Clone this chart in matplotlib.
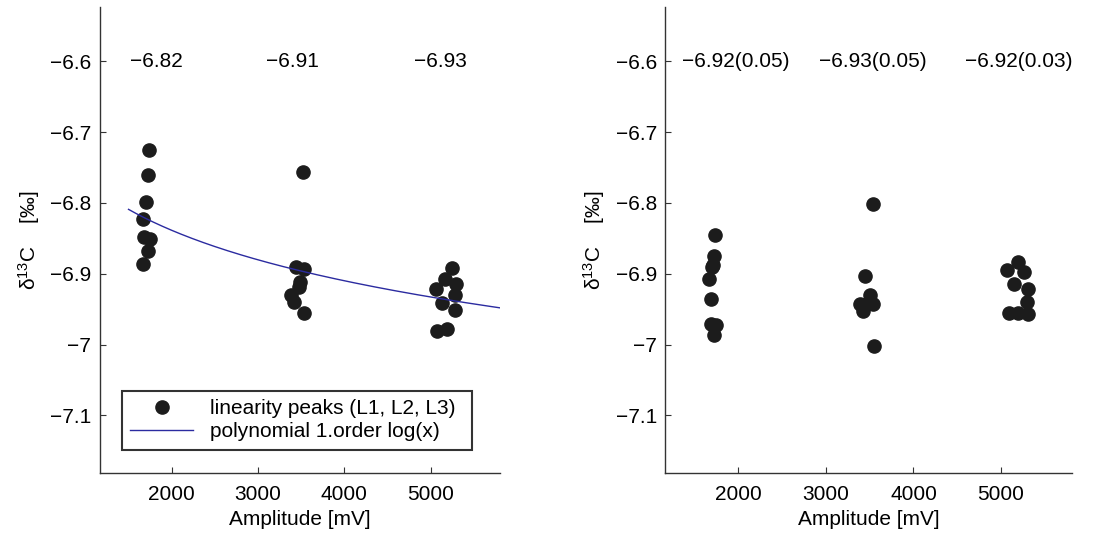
import numpy as np
import matplotlib.pyplot as plt

plt.rcParams['font.family'] = ['Liberation Sans', 'DejaVu Sans']
plt.rcParams['mathtext.fontset'] = 'custom'
plt.rcParams['mathtext.rm'] = 'Liberation Sans'
plt.rcParams['mathtext.it'] = 'Liberation Sans:italic'

# raw linearity peaks (left panel)
raw_x = [1735, 1723, 1700, 1669, 1677, 1746, 1723, 1673,
         3527, 3438, 3538, 3488, 3473, 3377, 3423, 3538,
         5250, 5173, 5058, 5300, 5288, 5135, 5288, 5185, 5077]
raw_y = [-6.725, -6.760, -6.799, -6.823, -6.848, -6.851, -6.868, -6.886,
         -6.757, -6.890, -6.893, -6.911, -6.918, -6.930, -6.940, -6.955,
         -6.892, -6.907, -6.922, -6.915, -6.930, -6.941, -6.951, -6.978, -6.981]

# corrected peaks (right panel)
cor_x = [1734, 1726, 1707, 1703, 1665, 1684, 1684, 1741, 1726,
         3534, 3447, 3504, 3389, 3427, 3542, 3490, 3549,
         5064, 5190, 5266, 5148, 5312, 5293, 5095, 5190, 5304]
cor_y = [-6.845, -6.875, -6.887, -6.891, -6.907, -6.936, -6.971, -6.973, -6.986,
         -6.802, -6.903, -6.930, -6.942, -6.953, -6.943, -6.940, -7.002,
         -6.894, -6.884, -6.898, -6.915, -6.922, -6.940, -6.955, -6.955, -6.957]

left_notes = ['\u22126.82', '\u22126.91', '\u22126.93']
left_note_x = [1820, 3400, 5110]
right_notes = ['\u22126.92(0.05)', '\u22126.93(0.05)', '\u22126.92(0.03)']
right_note_x = [1975, 3540, 5200]

yticks = [-7.1, -7.0, -6.9, -6.8, -6.7, -6.6]
ytick_labels = ['\u22127.1', '\u22127', '\u22126.9', '\u22126.8', '\u22126.7', '\u22126.6']
xticks = [2000, 3000, 4000, 5000]

# log fit over the amplitude range
fit_range = [1500, 5800]
coef = np.polyfit(np.log(raw_x), raw_y, 1)
fx = np.linspace(fit_range[0], fit_range[1], 200)
fy = np.polyval(coef, np.log(fx))

dot = '#1c1c1c'
blue = '#2b2ba0'
fs = 15

fig = plt.figure(figsize=(11.13, 5.38), dpi=100)
ax1 = fig.add_axes([0.0895, 0.1212, 0.360, 0.8649])
ax2 = fig.add_axes([0.5978, 0.1212, 0.3651, 0.8649])


def style(ax):
    ax.set_xlim(1165, 5808)
    ax.set_ylim(-7.181, -6.524)
    ax.set_xticks(xticks)
    ax.set_yticks(yticks)
    ax.set_yticklabels(ytick_labels)
    ax.spines['top'].set_visible(False)
    ax.spines['right'].set_visible(False)
    for s in ['left', 'bottom']:
        ax.spines[s].set_color('#333333')
        ax.spines[s].set_linewidth(1.0)
    ax.tick_params(direction='in', length=4, width=0.8, color='#333333',
                   labelsize=fs, pad=6)
    ax.tick_params(axis='x', pad=9)
    ax.set_xlabel('Amplitude [mV]', fontsize=fs, labelpad=4)
    ax.set_ylabel('δ$^{13}$C    [‰]', fontsize=fs, labelpad=6)


ax1.plot(raw_x, raw_y, 'o', color=dot, markersize=9.5, label='linearity peaks (L1, L2, L3)')
ax1.plot(fx, fy, '-', color=blue, lw=1.0, label='polynomial 1.order log(x)')
for t, x in zip(left_notes, left_note_x):
    ax1.text(x, -6.6, t, ha='center', va='center', fontsize=fs)
style(ax1)
leg = ax1.legend(loc='lower left', bbox_to_anchor=(0.03, 0.027, 0.925, 0.15),
                 mode='expand', fontsize=fs, frameon=True, fancybox=False,
                 edgecolor='black', handlelength=3.0, borderpad=0.4,
                 labelspacing=0.2, handletextpad=0.8)
leg.get_frame().set_linewidth(1.5)

ax2.plot(cor_x, cor_y, 'o', color=dot, markersize=9.5)
for t, x in zip(right_notes, right_note_x):
    ax2.text(x, -6.6, t, ha='center', va='center', fontsize=fs)
style(ax2)

fig.savefig('out.png', dpi=100)
